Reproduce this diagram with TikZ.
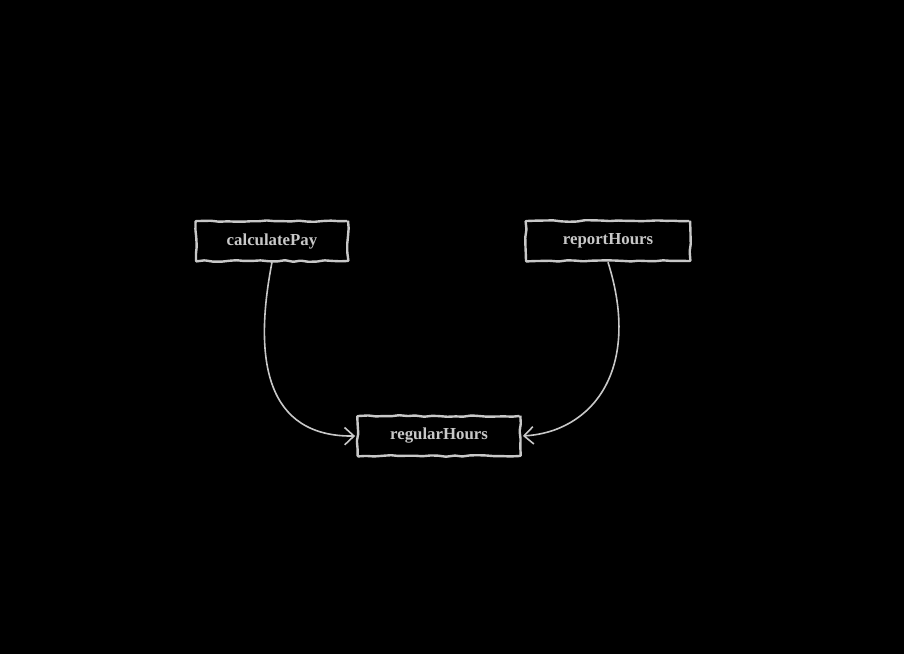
\documentclass[tikz,border=0pt]{standalone}
\usepackage{fontspec}
\setmainfont{Liberation Serif}
\usetikzlibrary{arrows.meta,decorations.pathmorphing}
\definecolor{ink}{HTML}{C8C8C8}
\tikzset{
  sketchbox/.style={draw=ink, fill=black, line width=1.8pt, text=ink,
    font=\bfseries\fontsize{12.6}{15}\selectfont,
    minimum height=30pt, inner xsep=0pt,
    decorate, decoration={random steps, segment length=6pt, amplitude=0.6pt}, rounded corners=0.6pt},
  link/.style={draw=ink, line width=1.2pt, -{Straight Barb[length=7pt,width=13pt,line width=1.2pt]}, shorten >=1pt}
}
\begin{document}
\begin{tikzpicture}[x=0.75pt,y=-0.75pt]
\pgfmathsetseed{7}
\fill[black] (0,0) rectangle (904,654);
\useasboundingbox (0,0) rectangle (904,654);
\node[sketchbox, minimum width=114pt] (calc) at (272,241) {calculatePay};
\node[sketchbox, minimum width=123pt] (report) at (608,241) {reportHours};
\node[sketchbox, minimum width=122pt] (regular) at (439,436) {regularHours};
\draw[link] (calc.south) .. controls (253,360) and (266,437) .. (regular.west);
\draw[link] (report.south) .. controls (642,370) and (592,432) .. (regular.east);
\end{tikzpicture}
\end{document}
